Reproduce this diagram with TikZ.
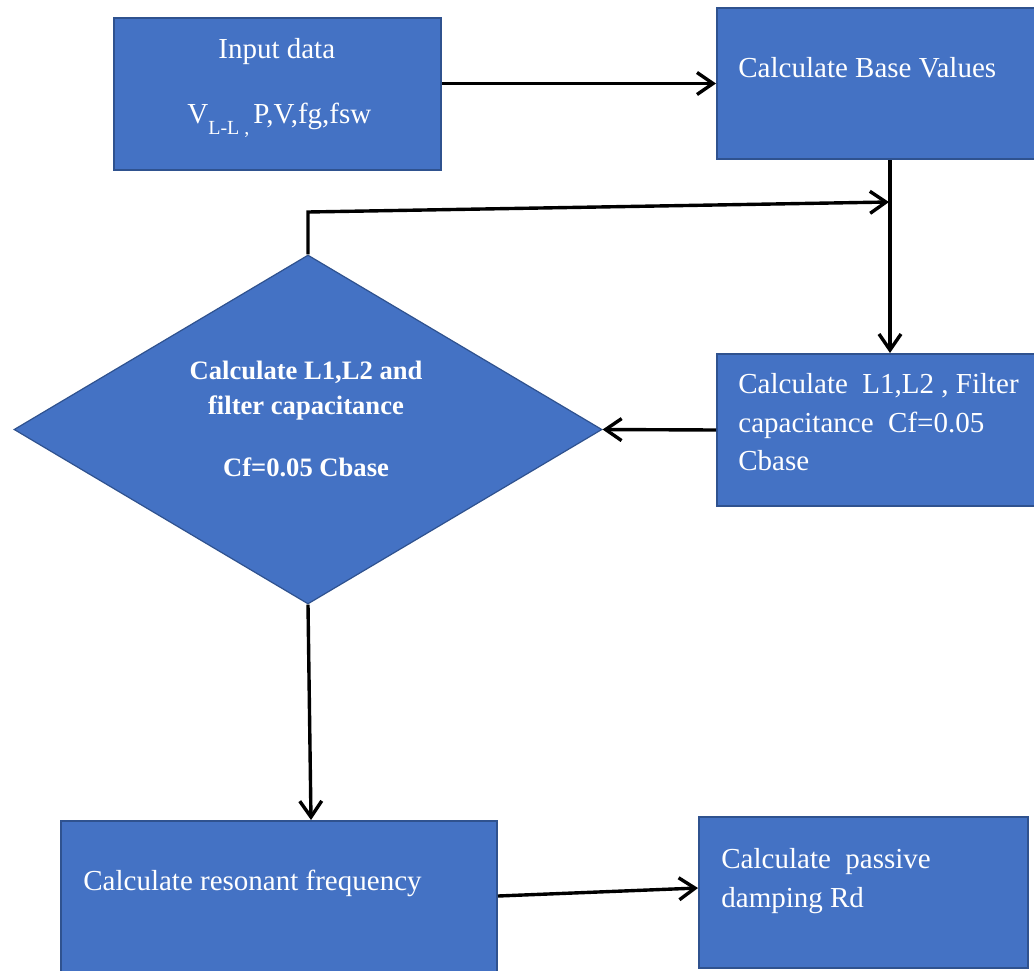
\documentclass[tikz,border=0pt]{standalone}
\usepackage{fontspec}
\setmainfont{Liberation Serif}
\usetikzlibrary{arrows.meta,shapes.geometric,fit}
\definecolor{boxfill}{HTML}{4472C4}
\definecolor{boxline}{HTML}{2F528F}
\begin{document}
\begin{tikzpicture}[x=0.5pt,y=-0.5pt,
  box/.style={draw=boxline,line width=1pt,fill=boxfill,inner sep=0pt},
  dbox/.style={diamond,draw=boxline,line width=0.6pt,fill=boxfill,inner sep=0pt,minimum width=294pt,minimum height=174.5pt},
  txt/.style={text=white,font=\fontsize{14.5}{19}\selectfont,inner sep=0pt,anchor=base west},
  btxt/.style={text=white,font=\bfseries\fontsize{13.3}{17.5}\selectfont,inner sep=0pt,anchor=base},
  conn/.style={line width=1.7pt,-{Straight Barb[length=8pt,width=11pt]}}]
\useasboundingbox (0,0) rectangle (1034,970);
\clip (0,0) rectangle (1034,970);
\fill[white] (0,0) rectangle (1034,970);
% boxes
\node[box,fit={(114,18) (441,170)}] (in) {};
\node[box,fit={(717,8) (1042,159)}] (base) {};
\node[box,fit={(717,354) (1042,506)}] (calc) {};
\node[dbox] (dia) at (308,429.5) {};
\node[box,fit={(61,821) (497,985)}] (res) {};
\node[box,fit={(699,817) (1028,968)}] (damp) {};
% texts
\node[txt] (t1) at (218,58) {Input data};
\node[txt] (t2) at (187,123) {V\raisebox{-5.5pt}{\fontsize{10}{12}\selectfont L-L ,}\hspace{2pt}P,V,fg,fsw};
\node[txt] (t3) at (738,77) {Calculate Base Values};
\node[txt] (t4) at (738,393) {Calculate\ \ L1,L2 , Filter};
\node[txt] (t5) at (738,432) {capacitance\ \ Cf=0.05};
\node[txt] (t6) at (738,470) {Cbase};
\node[btxt] (d1) at (306,379) {Calculate L1,L2 and};
\node[btxt] (d2) at (306,414) {filter capacitance};
\node[btxt] (d3) at (306,476) {Cf=0.05 Cbase};
\node[txt] (t7) at (83,890) {Calculate resonant frequency};
\node[txt] (t8) at (721,868) {Calculate\ \ passive};
\node[txt] (t9) at (721,907) {damping Rd};
% connectors
\coordinate (bx) at (890,0);
\coordinate (fb) at (309,212);
\coordinate (fe) at (889,202);
\coordinate (rt) at (311,0);
\coordinate (r1) at (0,896);
\coordinate (r2) at (0,888);
\draw[conn] (base.west -| in.east) -- (base.west);
\draw[conn] (base.south -| bx) -- (calc.north -| bx);
\draw[conn] (dia.north) -- (dia.north |- fb) -- (fe);
\draw[conn] (calc.west) -- (dia.east);
\draw[conn] (dia.south) -- (res.north -| rt);
\draw[conn] (res.east |- r1) -- (damp.west |- r2);
\end{tikzpicture}
\end{document}
